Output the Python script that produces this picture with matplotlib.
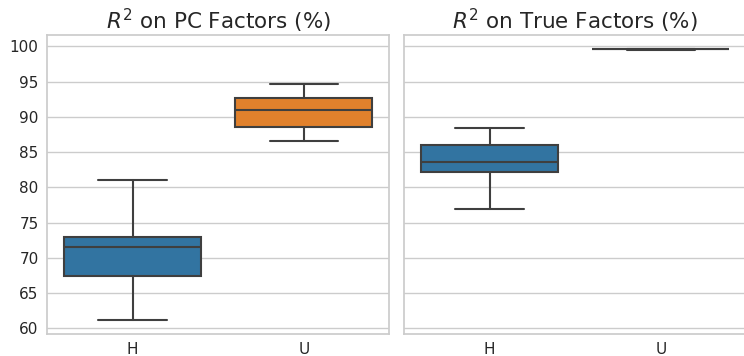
import matplotlib
matplotlib.use("Agg")
import matplotlib.pyplot as plt
import seaborn as sns

sns.set_theme(style="whitegrid")

groups = ["H", "U"]
colors = ["#3274a1", "#e1812c"]

# (whislo, q1, med, q3, whishi)
pc_stats = [
    [61.2, 67.5, 71.6, 73.0, 81.0],
    [86.6, 88.5, 90.9, 92.6, 94.7],
]
true_stats = [
    [77.0, 82.2, 83.6, 86.0, 88.4],
    [99.5, 99.58, 99.6, 99.62, 99.68],
]
titles = [r"$R^2$ on PC Factors (%)", r"$R^2$ on True Factors (%)"]

fig = plt.figure(figsize=(7.44, 3.56), dpi=100)
ax1 = fig.add_axes([0.0632, 0.0632, 0.4603, 0.8385])
ax2 = fig.add_axes([0.543, 0.0632, 0.4603, 0.8385], sharey=ax1)

for ax, stats, title in zip([ax1, ax2], [pc_stats, true_stats], titles):
    bstats = []
    for name, s in zip(groups, stats):
        bstats.append({"label": name, "whislo": s[0], "q1": s[1], "med": s[2],
                       "q3": s[3], "whishi": s[4], "fliers": []})
    line = dict(color="#3f3f3f", linewidth=1.5)
    bp = ax.bxp(bstats, positions=range(len(groups)), widths=0.8, patch_artist=True,
                showfliers=False, boxprops=line, medianprops=line,
                whiskerprops=line, capprops=line, capwidths=0.4)
    for patch, c in zip(bp["boxes"], colors):
        patch.set_facecolor(c)
    ax.set_xlim(-0.5, 1.5)
    ax.set_title(title, fontsize=15.5, pad=4)
    ax.tick_params(axis="both", labelsize=11, length=0, pad=6)
    ax.xaxis.grid(False)

ax1.set_yticks(range(60, 101, 5))
plt.setp(ax2.get_yticklabels(), visible=False)
plt.savefig("out.png")
plt.close()
